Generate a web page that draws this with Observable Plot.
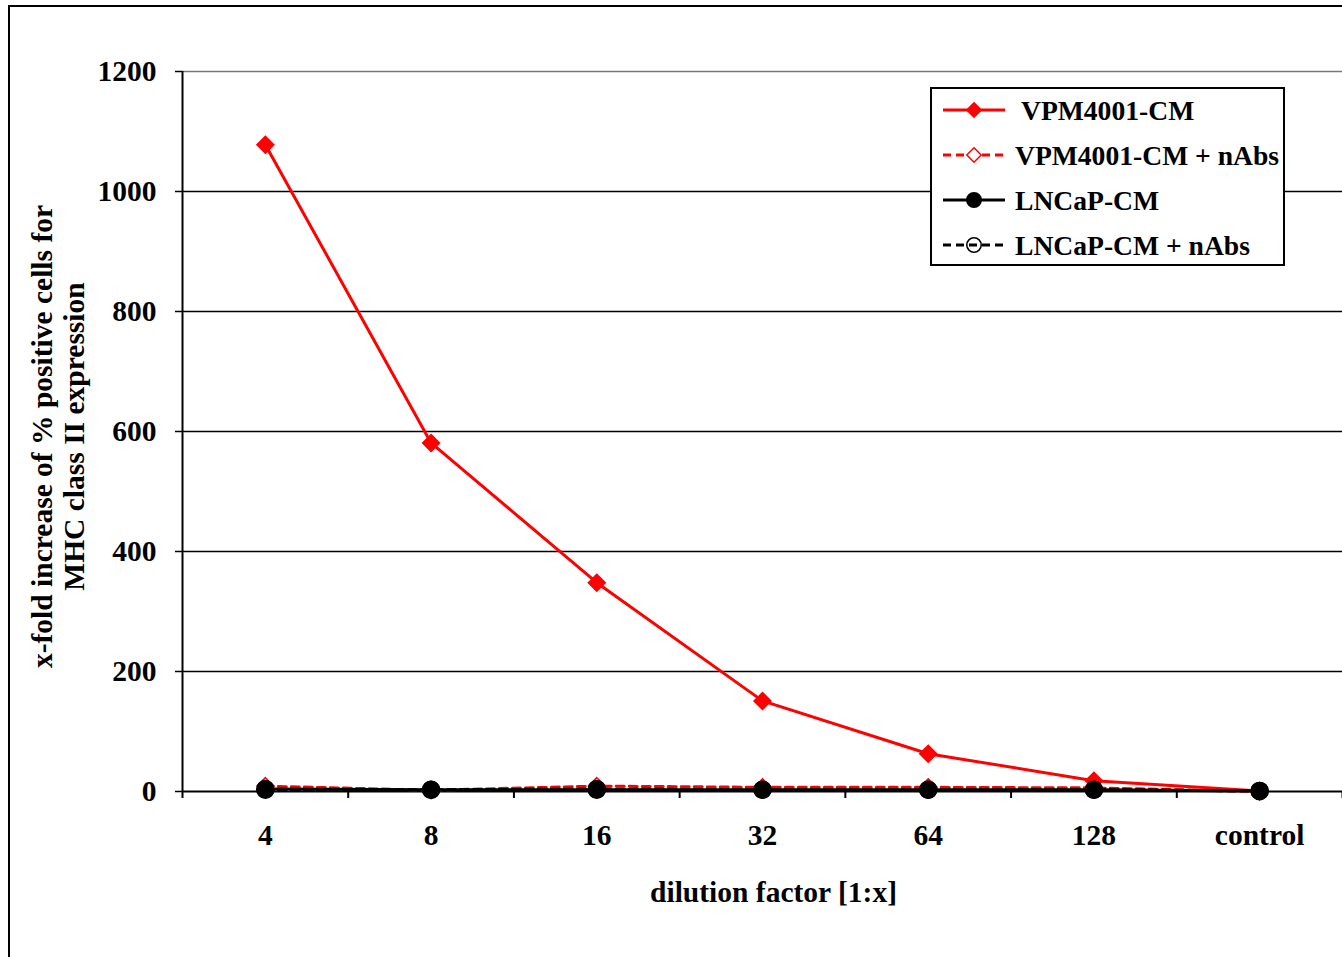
<!DOCTYPE html>
<html>
<head>
<meta charset="utf-8">
<script src="https://cdn.jsdelivr.net/npm/d3@7"></script>
<script src="https://cdn.jsdelivr.net/npm/@observablehq/plot@0.6"></script>
<style>
  html, body { margin: 0; padding: 0; background: #fff; }
  #wrap { position: relative; width: 1342px; height: 957px; overflow: hidden; background: #fff; }
  #border { position: absolute; left: 8px; top: 5px; width: 1400px; height: 1000px; border: 2px solid #000; box-sizing: border-box; }
  #chart { position: absolute; left: 0; top: 0; }
  #legend { position: absolute; left: 930px; top: 87px; width: 355px; height: 179px; border: 2px solid #000; background: #fff; box-sizing: border-box; }
</style>
</head>
<body>
<div id="wrap">
  <div id="border"></div>
  <div id="chart"></div>
  <div id="legend"></div>
</div>
<script>
const categories = ["4", "8", "16", "32", "64", "128", "control"];
const seriesNames = ["VPM4001-CM", "VPM4001-CM + nAbs", "LNCaP-CM", "LNCaP-CM + nAbs"];
const vpm = [1078, 581, 348, 151, 63, 18, 1];
const vpmNAbs = [9, 2, 9, 7, 7, 6, 0];
const lncap = [4, 3, 3, 3, 3, 3, 1];
const lncapNAbs = [3, 3, 4, 3, 3, 3, 1];
const yTicks = [0, 200, 400, 600, 800, 1000, 1200];
const xTitle = "dilution factor [1:x]";
const yTitle = "x-fold increase of % positive cells for\nMHC class II expression";

const styles = {
  "VPM4001-CM": {stroke: "#ff0000", dash: null, symbol: "diamond2", fill: "#ff0000", r: 7.6},
  "VPM4001-CM + nAbs": {stroke: "#ff0000", dash: "8,5", symbol: "diamond2", fill: "#ffffff", r: 7.6},
  "LNCaP-CM": {stroke: "#000000", dash: null, symbol: "circle", fill: "#000000", r: 8.5},
  "LNCaP-CM + nAbs": {stroke: "#000000", dash: "8,5", symbol: "circle", fill: "none", r: 8.5}
};

const allSeries = [vpm, vpmNAbs, lncap, lncapNAbs];
const rows = [];
seriesNames.forEach((s, si) => categories.forEach((c, i) => rows.push({series: s, cat: c, value: allSeries[si][i]})));

const W = 1342, H = 957, ML = 182, MR = 0, MT = 71, MB = 166;
const step = (W - ML - MR) / categories.length;
const font = "'Liberation Serif', 'Times New Roman', serif";
const axisFont = 29.5;

const drawOrder = ["VPM4001-CM", "VPM4001-CM + nAbs", "LNCaP-CM + nAbs", "LNCaP-CM"];
const seriesMarks = [];
for (const s of drawOrder) {
  const st = styles[s];
  const d = rows.filter(r => r.series === s);
  seriesMarks.push(Plot.line(d, {x: "cat", y: "value", stroke: st.stroke, strokeWidth: 3, strokeDasharray: st.dash}));
}
for (const s of drawOrder) {
  const st = styles[s];
  const d = rows.filter(r => r.series === s);
  seriesMarks.push(Plot.dot(d, {x: "cat", y: "value", symbol: () => st.symbol, r: st.r, fill: st.fill, stroke: st.stroke, strokeWidth: 1.5}));
}

const chart = Plot.plot({
  width: W, height: H,
  marginLeft: ML, marginRight: MR, marginTop: MT, marginBottom: MB,
  style: {fontFamily: font, fontSize: axisFont + "px", fontWeight: "bold", background: "transparent", overflow: "visible"},
  x: {type: "point", domain: categories, padding: 0.5, round: false, axis: null},
  y: {domain: [0, 1200], axis: null},
  symbol: {type: "identity"},
  marks: [
    Plot.ruleY(yTicks.filter(v => v > 0 && v < 1200), {stroke: "#000", strokeWidth: 1.3}),
    Plot.ruleY([1200], {stroke: "#777", strokeWidth: 1.3}),
    Plot.ruleY([0], {stroke: "#000", strokeWidth: 2}),
    Plot.ruleX([categories[0]], {x: d => d, dx: -step / 2, y1: -11.7, y2: 1200, stroke: "#000", strokeWidth: 2}),
    Plot.ruleX(categories, {x: d => d, dx: step / 2, y1: -11.7, y2: 0, stroke: "#000", strokeWidth: 2}),
    Plot.axisY(yTicks, {tickSize: 7, tickPadding: 19, tickFormat: d3.format("d"), strokeWidth: 1.5, fontSize: axisFont, fontWeight: "bold", fontFamily: font, label: null}),
    Plot.axisX(categories, {tickSize: 0, tickPadding: 33, fontSize: axisFont, fontWeight: "bold", fontFamily: font, label: null}),
    ...seriesMarks,
    Plot.text([xTitle], {text: d => d, frameAnchor: "bottom", textAnchor: "middle", dy: 110, dx: 11, fontSize: axisFont, fontWeight: "bold", fontFamily: font}),
    Plot.text([yTitle], {text: d => d, frameAnchor: "left", textAnchor: "middle", dx: -124.5, dy: 5, rotate: -90, lineHeight: 1.06, fontSize: axisFont, fontWeight: "bold", fontFamily: font})
  ]
});
document.getElementById("chart").appendChild(chart);

// Legend
const lg = d3.select("#legend").append("svg").attr("width", 351).attr("height", 175).style("display", "block");
const rowY = [21, 66, 111, 156];
seriesNames.forEach((s, i) => {
  const st = styles[s];
  const g = lg.append("g").attr("transform", `translate(0,${rowY[i]})`);
  g.append("line").attr("x1", 11).attr("x2", 73).attr("y1", 0).attr("y2", 0)
    .attr("stroke", st.stroke).attr("stroke-width", 3).attr("stroke-dasharray", st.dash);
  const sym = st.symbol === "circle" ? d3.symbolCircle : d3.symbolDiamond2;
  g.append("path").attr("transform", "translate(42,0)")
    .attr("d", d3.symbol(sym, Math.PI * (st.r * 0.85) ** 2)())
    .attr("fill", st.fill).attr("stroke", st.stroke).attr("stroke-width", 1.5);
  g.append("text").attr("x", i === 0 ? 89 : 83).attr("y", 0).attr("dy", "0.35em")
    .attr("font-family", font).attr("font-size", 27.6).attr("font-weight", "bold").text(s);
});
</script>
</body>
</html>
